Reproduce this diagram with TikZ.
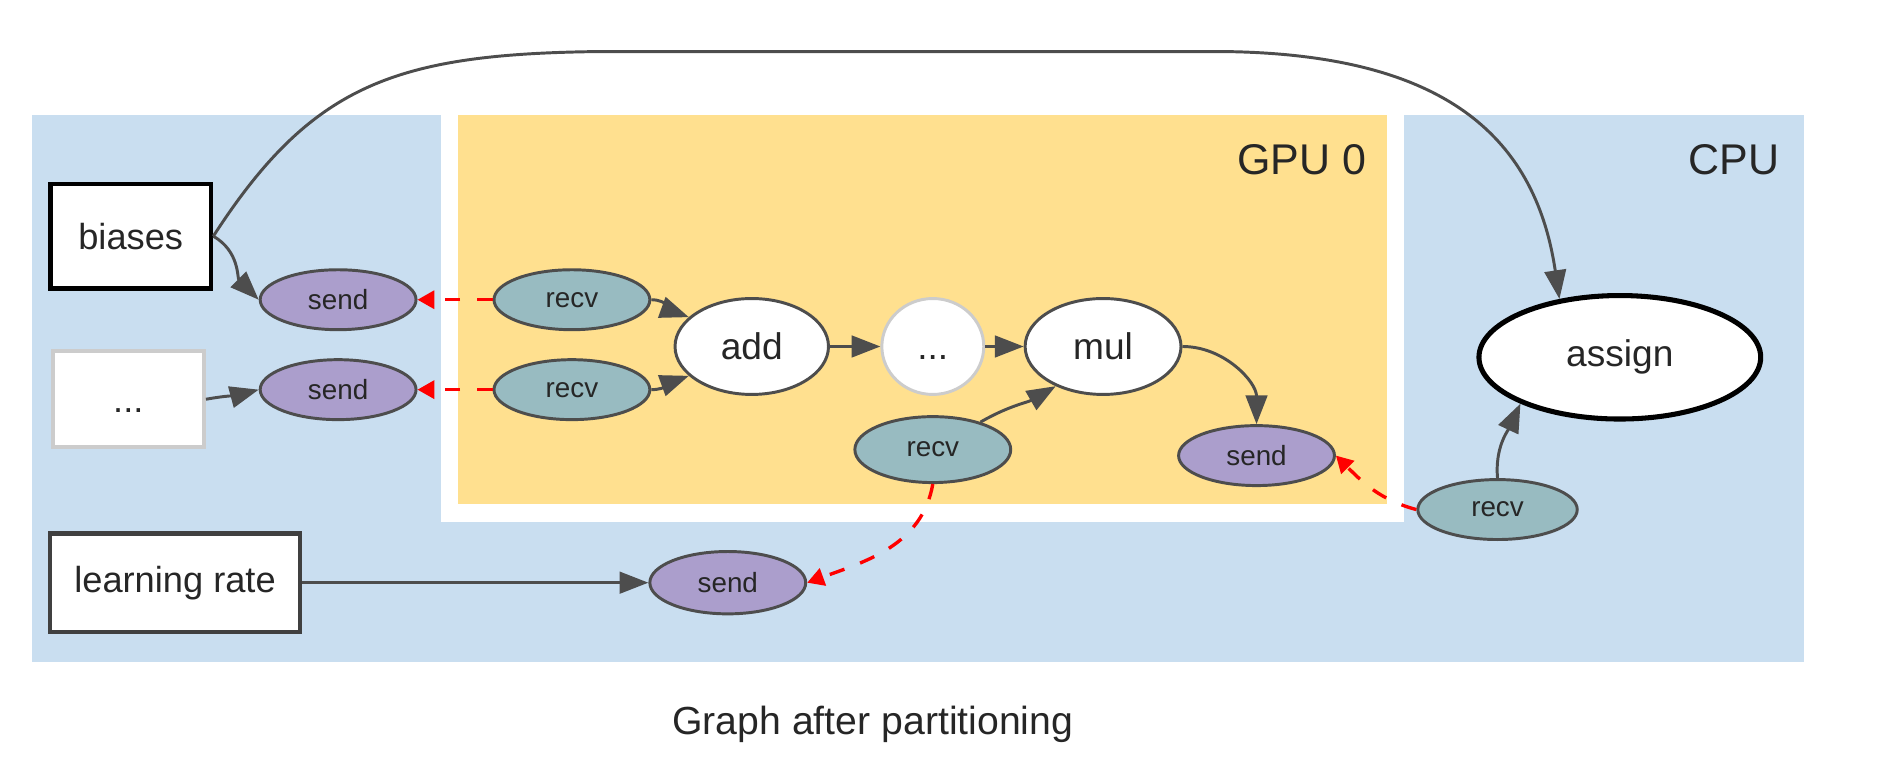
\documentclass[tikz,border=0pt]{standalone}
\usepackage{fontspec}
\setmainfont{Liberation Sans}
\usetikzlibrary{shapes.geometric,arrows.meta}

\definecolor{cpublue}{HTML}{C9DEF0}
\definecolor{gpuyellow}{HTML}{FFE08F}
\definecolor{sendpurple}{HTML}{AB9ECC}
\definecolor{recvteal}{HTML}{98BBC1}
\definecolor{edgegray}{HTML}{4D4D4D}

\begin{document}
\begin{tikzpicture}[x=0.1mm,y=0.1mm]
	\tikzstyle{Box} = [rectangle, inner sep=0pt, text centered, fill=white, text=black!85, font=\fontsize{8.6}{10}\selectfont]
	\tikzstyle{Op} = [ellipse, inner sep=0pt, minimum width=13mm, minimum height=8mm, fill=white, draw=edgegray, line width=0.7pt, text=black!85, font=\fontsize{8.8}{10}\selectfont]
	\tikzstyle{Send} = [ellipse, inner sep=0pt, minimum width=13mm, minimum height=5mm, fill=sendpurple, draw=edgegray, line width=0.7pt, text=black!85, font=\fontsize{6.6}{8}\selectfont]
	\tikzstyle{Recv} = [Send, fill=recvteal]
	\tikzstyle{Device} = [anchor=east, inner sep=0pt, text=black!85, font=\fontsize{10.2}{12}\selectfont]
	\tikzstyle{arrow} = [line width=0.7pt, draw=edgegray, -{Triangle[length=2.4mm,width=1.8mm]}]
	\tikzstyle{transfer} = [line width=0.8pt, draw=red, dash pattern=on 1.3mm off 1.4mm, -{Triangle[length=1.4mm,width=1.5mm]}]

	\useasboundingbox (0,0) rectangle (1568,-647);

	% devices
	\fill [cpublue] (27,-96) rectangle (1505,-552);
	\fill [white] (368,-96) rectangle (1171,-435);
	\fill [gpuyellow] (382,-96) rectangle (1157,-420);
	\node (gpu) [Device] at (1140,-133) {GPU 0};
	\node (cpu) [Device] at (1485,-133) {CPU};

	% CPU side
	\node (biases) [Box, draw=black, line width=1.1pt, minimum width=13.4mm, minimum height=8.7mm] at (109,-197) {biases};
	\node (more) [Box, draw=black!20, line width=1pt, minimum width=12.6mm, minimum height=8mm] at (107,-333) {\vphantom{b}...};
	\node (lrate) [Box, draw=black!75, line width=1pt, minimum width=20.8mm, minimum height=8.2mm] at (146,-486) {learning rate};
	\node (send1) [Send] at (282,-250) {send};
	\node (send2) [Send] at (282,-325) {send};
	\node (send4) [Send, minimum height=5.2mm] at (607,-486) {send};
	\node (recv4) [Recv, minimum width=13.3mm] at (1249,-425) {recv};
	\node (assign) [Op, draw=black, line width=1.2pt, minimum width=23.5mm, minimum height=10.3mm] at (1351,-298) {assign};

	% GPU side
	\node (recv1) [Recv] at (477,-250) {recv};
	\node (recv2) [Recv] at (477,-325) {recv};
	\node (add) [Op, minimum width=12.8mm] at (627,-289) {add};
	\node (dotsop) [Op, draw=black!20, minimum width=8.5mm] at (778,-289) {\vphantom{d}...};
	\node (mul) [Op] at (920,-289) {mul};
	\node (recv3) [Recv, minimum height=5.5mm] at (778,-375) {recv};
	\node (send3) [Send] at (1048,-380) {send};

	\node (caption) [text=black!85, font=\fontsize{9.3}{11}\selectfont] at (728,-604) {Graph after partitioning};

	\draw [arrow] (biases.east) .. controls (260,-70) and (330,-45) .. (500,-43) -- (1020,-43) .. controls (1200,-45) and (1280,-110) .. (assign.136);

	\path
	(biases.east) edge[arrow, out=-30, in=135] (send1.west)
	(more.east) edge[arrow, out=10, in=195] (send2.west)
	(lrate.east) edge[arrow] (send4.west)
	(recv1.east) edge[arrow, out=0, in=160] (add.155)
	(recv2.east) edge[arrow, out=0, in=200] (add.205)
	(add.east) edge[arrow] (dotsop.west)
	(dotsop.east) edge[arrow] (mul.west)
	(recv3.30) edge[arrow, out=30, in=210] (mul.220)
	(mul.east) edge[arrow, out=0, in=90] (send3.north)
	(recv4.north) edge[arrow, out=95, in=-115] (assign.205);

	\path
	(recv1.west) edge[transfer] (send1.east)
	(recv2.west) edge[transfer] (send2.east)
	(recv3.south) edge[transfer, out=-100, in=20] (send4.east)
	(recv4.west) edge[transfer, out=165, in=-45] (send3.east);
\end{tikzpicture}
\end{document}
